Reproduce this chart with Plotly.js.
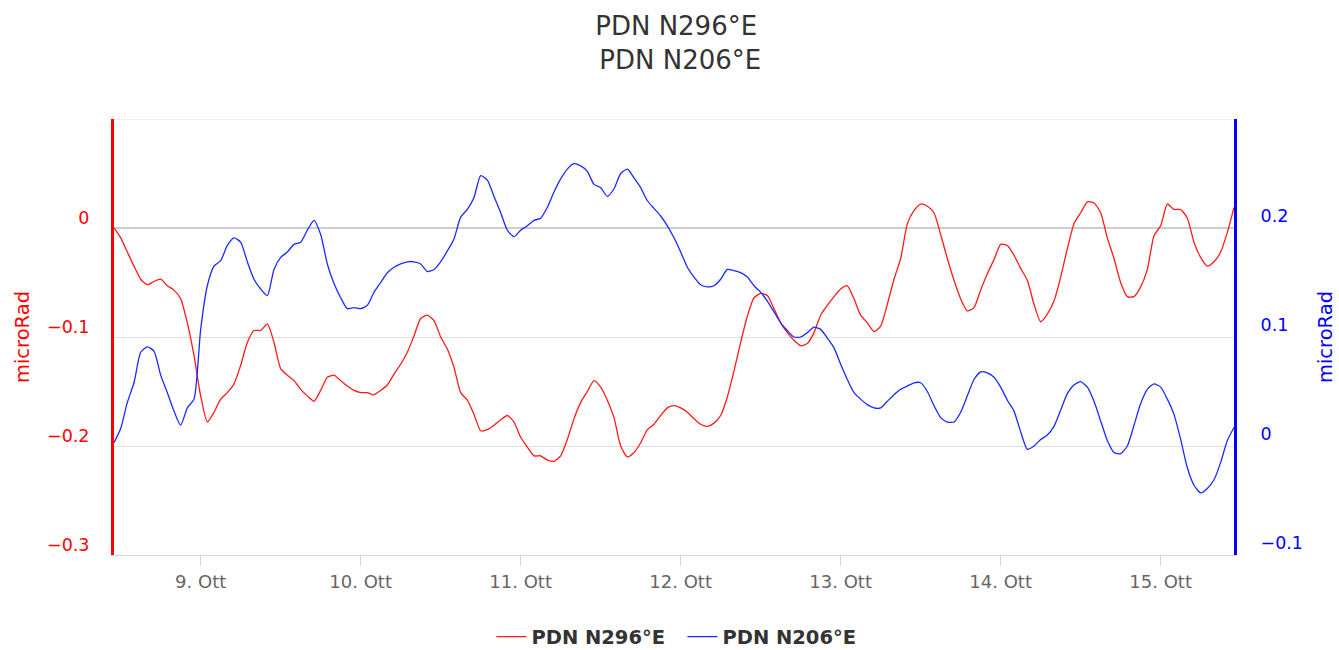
<!DOCTYPE html>
<html>
<head>
<meta charset="utf-8">
<script src="https://cdn.plot.ly/plotly-3.0.1.min.js"></script>
<style>html,body{margin:0;padding:0;background:#fff;}#chart{width:1339px;height:650px;}</style>
</head>
<body>
<div id="chart"></div>
<script>
// Hourly samples from 2023-10-08 11:00 to 2023-10-15 11:00 (169 points)
const startTime = '2023-10-08T11:00:00';
const sampleCount = 169;

const seriesNames = ['PDN N296°E', 'PDN N206°E'];

const n296 = [
  0,-0.009,-0.022,-0.035,-0.047,-0.052,-0.049,-0.047,-0.053,-0.057,-0.065,-0.087,-0.117,-0.154,-0.178,-0.169,-0.157,-0.151,-0.143,-0.126,-0.105,-0.094,-0.094,-0.088,-0.105,-0.129,-0.135,-0.140,
  -0.148,-0.154,-0.159,-0.149,-0.137,-0.135,-0.140,-0.145,-0.149,-0.151,-0.151,-0.153,-0.149,-0.144,-0.134,-0.125,-0.114,-0.099,-0.083,-0.080,-0.085,-0.100,-0.111,-0.128,-0.151,-0.158,-0.171,-0.186,
  -0.185,-0.181,-0.176,-0.172,-0.178,-0.192,-0.201,-0.209,-0.209,-0.213,-0.214,-0.209,-0.194,-0.175,-0.160,-0.150,-0.140,-0.146,-0.158,-0.174,-0.200,-0.210,-0.206,-0.197,-0.185,-0.180,-0.172,-0.165,
  -0.163,-0.165,-0.169,-0.175,-0.180,-0.182,-0.179,-0.172,-0.155,-0.131,-0.105,-0.081,-0.064,-0.060,-0.062,-0.074,-0.087,-0.096,-0.103,-0.108,-0.106,-0.096,-0.080,-0.071,-0.063,-0.056,-0.053,-0.065,
  -0.080,-0.087,-0.095,-0.090,-0.070,-0.047,-0.028,0.004,0.016,0.022,0.020,0.014,-0.006,-0.028,-0.048,-0.065,-0.076,-0.073,-0.057,-0.042,-0.029,-0.015,-0.016,-0.025,-0.037,-0.048,-0.070,-0.086,
  -0.079,-0.067,-0.045,-0.019,0.004,0.014,0.024,0.023,0.014,-0.009,-0.028,-0.050,-0.063,-0.063,-0.054,-0.038,-0.007,0.002,0.022,0.017,0.017,0.009,-0.013,-0.027,-0.035,-0.031,-0.022,-0.004,0.019
];

const n206 = [
  0.003,0.016,0.040,0.058,0.086,0.091,0.087,0.065,0.049,0.032,0.019,0.035,0.043,0.107,0.147,0.165,0.170,0.184,0.191,0.187,0.169,0.153,0.144,0.138,0.162,0.173,0.178,0.185,
  0.187,0.198,0.207,0.194,0.167,0.149,0.136,0.126,0.127,0.126,0.129,0.141,0.150,0.159,0.164,0.167,0.169,0.169,0.167,0.160,0.162,0.169,0.179,0.190,0.210,0.217,0.228,0.248,
  0.244,0.229,0.214,0.198,0.192,0.198,0.202,0.207,0.209,0.219,0.233,0.245,0.254,0.259,0.257,0.252,0.240,0.237,0.229,0.236,0.250,0.254,0.246,0.237,0.225,0.218,0.211,0.202,
  0.191,0.178,0.164,0.155,0.148,0.146,0.147,0.153,0.162,0.161,0.159,0.155,0.147,0.141,0.133,0.123,0.113,0.106,0.100,0.100,0.104,0.109,0.107,0.099,0.090,0.075,0.061,0.049,
  0.043,0.038,0.035,0.035,0.041,0.047,0.052,0.055,0.058,0.058,0.050,0.037,0.026,0.022,0.022,0.031,0.046,0.061,0.068,0.067,0.063,0.054,0.042,0.032,0.013,-0.003,0.000,0.006,
  0.010,0.018,0.033,0.048,0.056,0.059,0.054,0.041,0.023,0.005,-0.006,-0.007,0.000,0.019,0.039,0.052,0.057,0.054,0.043,0.029,0.006,-0.020,-0.036,-0.043,-0.039,-0.031,-0.015,0.005,0.017
];

const dayTicks = ['2023-10-09','2023-10-10','2023-10-11','2023-10-12','2023-10-13','2023-10-14','2023-10-15'];
const dayLabels = ['9. Ott','10. Ott','11. Ott','12. Ott','13. Ott','14. Ott','15. Ott'];

const leftTicks = [-0.3, -0.2, -0.1, 0, 0.1];
const leftTickText = ['\u22120.3', '\u22120.2', '\u22120.1', '0', ''];
const rightTicks = [-0.1, 0, 0.1, 0.2];
const rightTickText = ['\u22120.1', '0', '0.1', '0.2'];

const axisTitle = 'microRad';

// build hourly timestamps
function pad(v){ return (v < 10 ? '0' : '') + v; }
const t0 = new Date(startTime + 'Z').getTime();
const times = [];
for (let i = 0; i < sampleCount; i++) {
  const d = new Date(t0 + i * 3600000);
  times.push(d.getUTCFullYear() + '-' + pad(d.getUTCMonth()+1) + '-' + pad(d.getUTCDate()) + ' ' + pad(d.getUTCHours()) + ':00');
}

const FONT = 'DejaVu Sans, Verdana, sans-serif';

const traces = [
  {x: times, y: n296, name: seriesNames[0], type: 'scatter', mode: 'lines', yaxis: 'y',
   line: {color: '#ff1a1a', width: 1.3, shape: 'spline', smoothing: 0.6}},
  {x: times, y: n206, name: seriesNames[1], type: 'scatter', mode: 'lines', yaxis: 'y2',
   line: {color: '#1a2aff', width: 1.3, shape: 'spline', smoothing: 0.6}}
];

const layout = {
  width: 1339, height: 650,
  margin: {l: 114, r: 105, t: 119, b: 95},
  paper_bgcolor: '#ffffff', plot_bgcolor: '#ffffff',
  font: {family: FONT, color: '#333333'},
  title: {text: seriesNames[0] + '<br> ' + seriesNames[1], x: 0.505, xanchor: 'center',
          y: 0.946, yanchor: 'top', font: {size: 26, color: '#333333', family: FONT}},
  showlegend: true,
  legend: {orientation: 'h', x: 0.5075, xanchor: 'center', yref: 'container', y: 0.02, yanchor: 'middle',
           font: {size: 19.5, color: '#333333', family: FONT, weight: 'bold'}, itemwidth: 30,
           entrywidth: 146, entrywidthmode: 'pixels'},
  xaxis: {type: 'date', range: ['2023-10-08 11:00', '2023-10-15 11:00'],
          tickvals: dayTicks, ticktext: dayLabels, ticks: 'outside', ticklen: 10, tickwidth: 1,
          tickcolor: '#ccd6eb', showline: true, linecolor: '#ccd6eb', linewidth: 1,
          showgrid: false, zeroline: false, tickfont: {size: 18, color: '#666666'}},
  yaxis: {range: [-0.3, 0.1], tickvals: leftTicks, ticktext: leftTickText,
          showline: true, linecolor: '#ff0000', linewidth: 3, ticks: '',
          showgrid: true, gridcolor: '#e0e0e0', gridwidth: 1,
          zeroline: true, zerolinecolor: '#cccccc', zerolinewidth: 2,
          tickfont: {size: 17.5, color: '#ff0000'}, ticklabelstandoff: 18, ticklabelshift: -10,
          title: {text: axisTitle, font: {size: 19.5, color: '#ff0000'}, standoff: 13}},
  yaxis2: {range: [-0.1, 0.3], overlaying: 'y', side: 'right', tickvals: rightTicks, ticktext: rightTickText,
           showline: true, linecolor: '#0000ff', linewidth: 3, ticks: '',
           showgrid: false, zeroline: false,
           tickfont: {size: 17.5, color: '#0000ff'}, ticklabelstandoff: 20, ticklabelshift: -12,
           title: {text: axisTitle, font: {size: 19.5, color: '#0000ff'}, standoff: 17}},
  shapes: [{type: 'line', xref: 'paper', x0: 0, x1: 1, yref: 'y', y0: 0.1, y1: 0.1,
            line: {color: '#e0e0e0', width: 1}, layer: 'below'}]
};

Plotly.newPlot('chart', traces, layout, {displayModeBar: false, staticPlot: true});
</script>
</body>
</html>
